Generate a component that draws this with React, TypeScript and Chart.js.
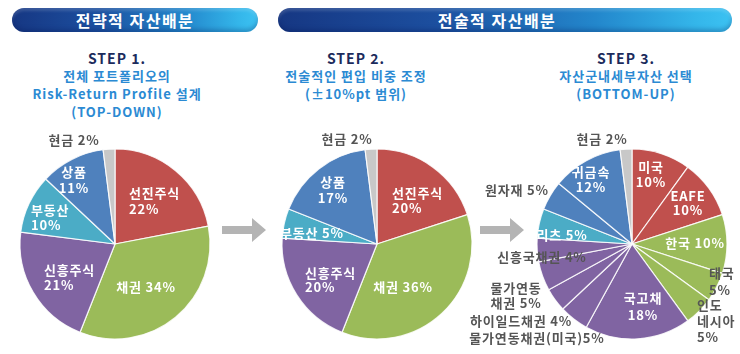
import React, { useEffect, useRef } from "react";
import { Chart, registerables } from "chart.js";

Chart.register(...registerables);

const PAGE_W = 740;
const PAGE_H = 354;

const RED = "#c0504d";
const GREEN = "#9bbb59";
const PURPLE = "#8064a2";
const TEAL = "#4bacc6";
const BLUE = "#4f81bd";
const GRAY = "#c8c8c8";

// STEP 1 – 전략적 자산배분
const step1Names = ["선진주식", "채권", "신흥주식", "부동산", "상품", "현금"];
const step1Values = [22, 34, 21, 10, 11, 2];
const step1Seps = ["\n", " ", "\n", "\n", "\n", " "];
const step1Colors = [RED, GREEN, PURPLE, TEAL, BLUE, GRAY];

// STEP 2 – 전술적 편입 비중 조정
const step2Names = ["선진주식", "채권", "신흥주식", "부동산", "상품", "현금"];
const step2Values = [20, 36, 20, 5, 17, 2];
const step2Seps = ["\n", " ", "\n", " ", "\n", " "];
const step2Colors = [RED, GREEN, PURPLE, TEAL, BLUE, GRAY];

// STEP 3 – 세부자산 선택
const step3Names = [
  "미국", "EAFE", "한국", "태국", "인도\n네시아", "국고채", "물가연동채권(미국)",
  "하이일드채권", "물가연동\n채권", "신흥국채권", "리츠", "원자재", "귀금속", "현금",
];
const step3Values = [10, 10, 10, 5, 5, 18, 5, 4, 5, 4, 5, 5, 12, 2];
const step3Seps = ["\n", "\n", " ", "\n", "\n", "\n", "", " ", " ", " ", " ", " ", "\n", " "];
const step3Colors = [
  RED, RED, GREEN, GREEN, GREEN, PURPLE, PURPLE, PURPLE, PURPLE, PURPLE, TEAL, BLUE, BLUE, GRAY,
];

type LabelLayout = { dx: number; dy: number; lh: number; align: CanvasTextAlign; dark: boolean };
const L = (dx: number, dy: number, lh: number, align: CanvasTextAlign, dark = false): LabelLayout => ({
  dx, dy, lh, align, dark,
});

// label placement relative to pie centre (px at radius 95)
const step1Layout = [
  L(14, -51, 16, "left"),
  L(31, 43, 16, "center"),
  L(-71, 26, 15, "left"),
  L(-84, -34, 15, "left"),
  L(-41, -72, 16, "center"),
  L(-41, -104, 16, "center", true),
];
const step2Layout = [
  L(15, -51, 15, "left"),
  L(26, 43, 16, "center"),
  L(-72, 29, 14, "left"),
  L(-65, -11, 16, "center"),
  L(-44, -62, 16, "center"),
  L(-30, -105, 16, "center", true),
];
const step3Layout = [
  L(19, -77, 15, "center"),
  L(56, -48, 14, "center"),
  L(63, -1, 16, "center"),
  L(77, 29, 17, "left", true),
  L(65, 61, 16, "left", true),
  L(11, 54, 17, "center"),
  L(-95, 94, 16, "center", true),
  L(-111, 77, 16, "center", true),
  L(-116, 44, 15, "center", true),
  L(-90, 13, 16, "center", true),
  L(-70, -9, 16, "center"),
  L(-115, -54, 16, "center", true),
  L(-41, -72, 15, "center"),
  L(-30, -105, 16, "center", true),
];

const FONT = "'Noto Sans CJK KR', 'Noto Sans', sans-serif";

type PieProps = {
  names: string[];
  values: number[];
  seps: string[];
  colors: string[];
  layout: LabelLayout[];
  cx: number;
  cy: number;
  r: number;
};

function PieCanvas({ names, values, seps, colors, layout, cx, cy, r }: PieProps) {
  const ref = useRef<HTMLCanvasElement | null>(null);
  useEffect(() => {
    if (!ref.current) return;
    const labelPlugin = {
      id: "sliceLabels",
      afterDatasetsDraw(chart: any) {
        const meta = chart.getDatasetMeta(0);
        const arc0 = meta.data[0];
        if (!arc0) return;
        const p = arc0.getProps(["x", "y", "outerRadius"], true);
        const k = p.outerRadius / 95;
        const ctx: any = chart.ctx;
        ctx.save();
        ctx.font = `bold 13px ${FONT}`;
        ctx.letterSpacing = "0.8px";
        ctx.textBaseline = "middle";
        const vals = chart.data.datasets[0].data as number[];
        const labels = chart.data.labels as string[];
        labels.forEach((name, i) => {
          const lay = layout[i];
          if (!lay) return;
          const lines = (name + seps[i] + vals[i] + "%").split("\n");
          ctx.fillStyle = lay.dark ? "#555555" : "#ffffff";
          ctx.textAlign = lay.align;
          lines.forEach((line, j) => {
            ctx.fillText(line, p.x + lay.dx * k, p.y + (lay.dy + j * lay.lh) * k);
          });
        });
        ctx.restore();
      },
    };
    const chart = new Chart(ref.current, {
      type: "pie",
      data: {
        labels: names,
        datasets: [
          {
            data: values,
            backgroundColor: colors,
            borderColor: "rgba(255,255,255,0.85)",
            borderWidth: 1.2,
          },
        ],
      },
      options: {
        responsive: false,
        animation: false,
        devicePixelRatio: 1,
        events: [],
        radius: r,
        layout: {
          padding: {
            left: cx - r,
            right: PAGE_W - cx - r,
            top: cy - r,
            bottom: PAGE_H - cy - r,
          },
        },
        plugins: {
          legend: { display: false },
          tooltip: { enabled: false },
          title: { display: false },
        },
      } as any,
      plugins: [labelPlugin],
    });
    return () => chart.destroy();
  }, [names, values, seps, colors, layout, cx, cy, r]);
  return (
    <canvas
      ref={ref}
      width={PAGE_W}
      height={PAGE_H}
      style={{ position: "absolute", left: 0, top: 0, width: PAGE_W, height: PAGE_H }}
    />
  );
}

const barStyle = (left: number, width: number): React.CSSProperties => ({
  position: "absolute",
  left,
  top: 8,
  width,
  height: 24,
  borderRadius: 12,
  background:
    "linear-gradient(to right, #163783 0%, #1c4f9f 35%, #2387cc 70%, #34b6ea 92%, #3cc2f2 100%)",
  boxShadow: "inset 0 -3px 4px rgba(0,20,80,0.25), inset 0 3px 3px rgba(255,255,255,0.15)",
  color: "#ffffff",
  fontFamily: FONT,
  fontWeight: 700,
  fontSize: 16,
  letterSpacing: 1.5,
  lineHeight: "24px",
  textAlign: "center",
});

function StepTitle({ cx, step, lines }: { cx: number; step: string; lines: string[] }) {
  return (
    <div
      style={{
        position: "absolute",
        left: cx - 130,
        top: 49,
        width: 260,
        textAlign: "center",
        fontFamily: FONT,
        fontWeight: 700,
        lineHeight: "18px",
        letterSpacing: 1,
        whiteSpace: "nowrap",
      }}
    >
      <div style={{ color: "#1b2b5c", fontSize: 14 }}>{step}</div>
      {lines.map((t, i) => (
        <div key={i} style={{ color: "#2b8ad3", fontSize: 13 }}>
          {t}
        </div>
      ))}
    </div>
  );
}

function Arrow({ left }: { left: number }) {
  return (
    <svg
      width={44}
      height={26}
      style={{ position: "absolute", left, top: 217 }}
      viewBox="0 0 44 26"
    >
      <polygon points="0,9 30,9 30,1 44,13 30,25 30,17 0,17" fill="#b4b4b4" />
    </svg>
  );
}

export default function App() {
  return (
    <div
      style={{
        position: "fixed",
        left: 0,
        top: 0,
        width: PAGE_W,
        height: PAGE_H,
        background: "#ffffff",
        overflow: "hidden",
      }}
    >
      <div style={barStyle(12, 246)}>전략적 자산배분</div>
      <div style={{ ...barStyle(278, 454), paddingRight: 16, boxSizing: "border-box" }}>
        전술적 자산배분
      </div>
      <StepTitle
        cx={117}
        step="STEP 1."
        lines={["전체 포트폴리오의", "Risk-Return Profile 설계", "(TOP-DOWN)"]}
      />
      <StepTitle cx={356} step="STEP 2." lines={["전술적인 편입 비중 조정", "(±10%pt 범위)"]} />
      <StepTitle cx={626} step="STEP 3." lines={["자산군내세부자산 선택", "(BOTTOM-UP)"]} />
      <Arrow left={222} />
      <Arrow left={480} />
      <PieCanvas
        names={step1Names}
        values={step1Values}
        seps={step1Seps}
        colors={step1Colors}
        layout={step1Layout}
        cx={115}
        cy={244}
        r={95}
      />
      <PieCanvas
        names={step2Names}
        values={step2Values}
        seps={step2Seps}
        colors={step2Colors}
        layout={step2Layout}
        cx={377}
        cy={244}
        r={95}
      />
      <PieCanvas
        names={step3Names}
        values={step3Values}
        seps={step3Seps}
        colors={step3Colors}
        layout={step3Layout}
        cx={632}
        cy={244}
        r={95}
      />
    </div>
  );
}
